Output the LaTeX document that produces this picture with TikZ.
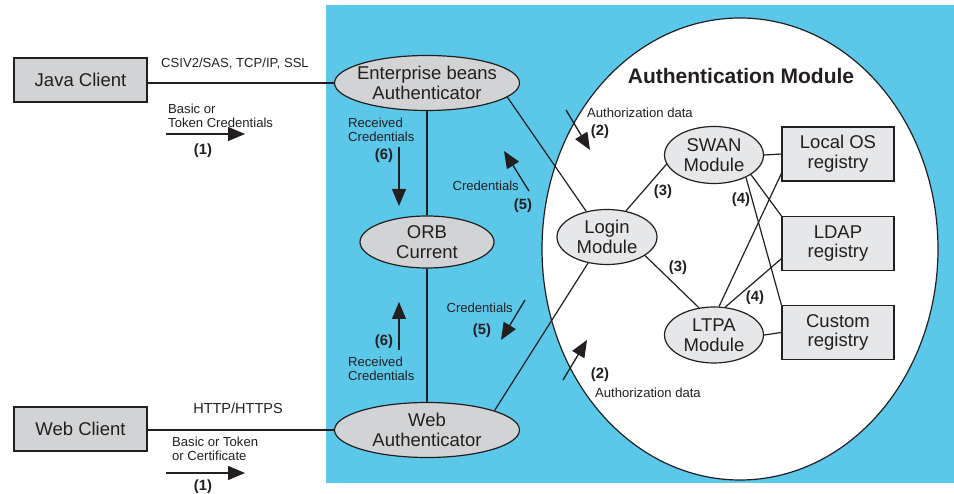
\documentclass[tikz,border=0pt]{standalone}
\usepackage{fontspec}
\setmainfont{Liberation Sans}
\usetikzlibrary{shapes.geometric,arrows.meta}
\definecolor{bgblue}{HTML}{5BC8EA}
\definecolor{ink}{HTML}{231F20}
\definecolor{boxgray}{HTML}{D1D3D4}
\definecolor{lightgray}{HTML}{E6E7E8}
\begin{document}
\begin{tikzpicture}[x=1pt,y=-1pt,
 bigtxt/.style={font=\fontsize{18.5}{19.8}\selectfont, text=ink, align=center, inner sep=0},
 smalltxt/.style={font=\fontsize{13.1}{13.5}\selectfont, text=ink, align=left, inner sep=0},
 numtxt/.style={font=\fontsize{14.8}{15}\selectfont\bfseries, text=ink, inner sep=0},
 titletxt/.style={font=\fontsize{21}{22}\selectfont\bfseries, text=ink, inner sep=0},
 clientbox/.style={draw=ink, line width=1.2pt, fill=boxgray, minimum width=133pt, minimum height=44pt, bigtxt},
 regbox/.style={draw=ink, line width=1.2pt, fill=lightgray, minimum width=112pt, minimum height=54pt, bigtxt},
 outerell/.style={ellipse, draw=ink, line width=1.2pt, fill=boxgray, inner sep=0},
 innerell/.style={ellipse, draw=ink, line width=1.2pt, fill=lightgray, inner sep=0},
 link/.style={draw=ink, line width=1.2pt},
 flow/.style={draw=ink, line width=1.3pt, -{Triangle[length=17pt,width=14pt]}},
]
\useasboundingbox (0,0) rectangle (954,494);
\path[fill=bgblue] (326,5) rectangle (954,483);
\draw[fill=white, line width=1.2pt, draw=ink] (740,249) ellipse [x radius=198, y radius=231];

% nodes
\node[clientbox] (java) at (80.5,80) {Java Client};
\node[clientbox] (webc) at (80.5,429) {Web Client};

\node[outerell, minimum width=185pt, minimum height=55pt] (ent) at (427,83) {};
\node[bigtxt] (enttxt) at (ent) {Enterprise beans\\Authenticator};
\node[outerell, minimum width=134pt, minimum height=52pt] (orb) at (427,242) {};
\node[bigtxt] (orbtxt) at (orb) {ORB\\Current};
\node[outerell, minimum width=185pt, minimum height=55pt] (web) at (427,430) {};
\node[bigtxt] (webtxt) at (web) {Web\\Authenticator};

\node[innerell, minimum width=100pt, minimum height=55pt] (login) at (607,237) {};
\node[bigtxt] (logintxt) at (login) {Login\\Module};
\node[innerell, minimum width=99pt, minimum height=57pt] (swan) at (714,155) {};
\node[bigtxt] (swantxt) at (swan) {SWAN\\Module};
\node[innerell, minimum width=99pt, minimum height=56pt] (ltpa) at (714,335) {};
\node[bigtxt] (ltpatxt) at (ltpa) {LTPA\\Module};

\node[regbox] (localos) at (838,154) {Local OS\\registry};
\node[regbox] (ldap) at (838,243.5) {LDAP\\registry};
\node[regbox] (custom) at (838,332.5) {Custom\\registry};

\node[titletxt] (title) at (741,76) {Authentication Module};

% connectors
\draw[link] (ent.west) -- (ent.west -| java.east);
\draw[link] (web.west) -- (web.west -| webc.east);
\draw[link] (ent.south) -- (orb.north);
\draw[link] (orb.south) -- (web.north);
\draw[link] (ent.-10) -- (login.129);
\draw[link] (web.16) -- (login.-126);
\draw[link] (login.54) -- (swan.-169);
\draw[link] (login.-26) -- (ltpa.119);
\draw[link] (swan.east) -- (localos.west);
\draw[link] (ltpa.east) -- (custom.west);
\draw[link] (swan.-28) -- (ldap.north west);
\draw[link] (swan.-35) -- (custom.north west);
\draw[link] (ltpa.80) -- (localos.199);
\draw[link] (ltpa.68) -- (ldap.195);

% left labels
\node[smalltxt] (proto1) at (235,64) {CSIV2/SAS, TCP/IP, SSL};
\node[smalltxt, anchor=west] (cred1) at (168,116) {Basic or\\Token Credentials};
\node[numtxt] (n1a) at (203,151) {(1)};
\coordinate (j1s) at (166,134);
\coordinate (j1e) at (245,134);
\draw[flow] (j1s) -- (j1e);

\node[font=\fontsize{14.5}{15}\selectfont, text=ink, inner sep=0] (proto2) at (238,408) {HTTP/HTTPS};
\node[smalltxt, anchor=west] (cred2) at (172,449) {Basic or Token\\or Certificate};
\node[numtxt] (n1b) at (203,487) {(1)};
\coordinate (w1s) at (166,473);
\coordinate (w1e) at (245,473);
\draw[flow] (w1s) -- (w1e);

% received credentials
\node[smalltxt, anchor=west] (rc1) at (348,130) {Received\\Credentials};
\node[numtxt] (n6a) at (384,156) {(6)};
\coordinate (r1s) at (399,147);
\coordinate (r1e) at (399,206);
\draw[flow] (r1s) -- (r1e);

\node[smalltxt, anchor=west] (rc2) at (348,369) {Received\\Credentials};
\node[numtxt] (n6b) at (384,342) {(6)};
\coordinate (r2s) at (399,350);
\coordinate (r2e) at (399,302);
\draw[flow] (r2s) -- (r2e);

% credentials (5)
\node[smalltxt, anchor=east] (c1) at (519,186) {Credentials};
\node[numtxt] (n5a) at (523,206) {(5)};
\coordinate (c1s) at (529,191);
\coordinate (c1e) at (504,151);
\draw[flow] (c1s) -- (c1e);

\node[smalltxt, anchor=east] (c2) at (513,308) {Credentials};
\node[numtxt] (n5b) at (482,331) {(5)};
\coordinate (c2s) at (525,300);
\coordinate (c2e) at (501,340);
\draw[flow] (c2s) -- (c2e);

% authorization data (2)
\node[smalltxt, anchor=west] (a1) at (587,113) {Authorization data};
\node[numtxt] (n2a) at (600,132) {(2)};
\coordinate (a1s) at (566,110);
\coordinate (a1e) at (590,150);
\draw[flow] (a1s) -- (a1e);

\node[smalltxt, anchor=west] (a2) at (595,393) {Authorization data};
\node[numtxt] (n2b) at (600,375) {(2)};
\coordinate (a2s) at (563,380);
\coordinate (a2e) at (587,340);
\draw[flow] (a2s) -- (a2e);

% (3) and (4)
\node[numtxt] (n3a) at (663,192) {(3)};
\node[numtxt] (n3b) at (678,268) {(3)};
\node[numtxt] (n4a) at (741,200) {(4)};
\node[numtxt] (n4b) at (755,298) {(4)};
\end{tikzpicture}
\end{document}
